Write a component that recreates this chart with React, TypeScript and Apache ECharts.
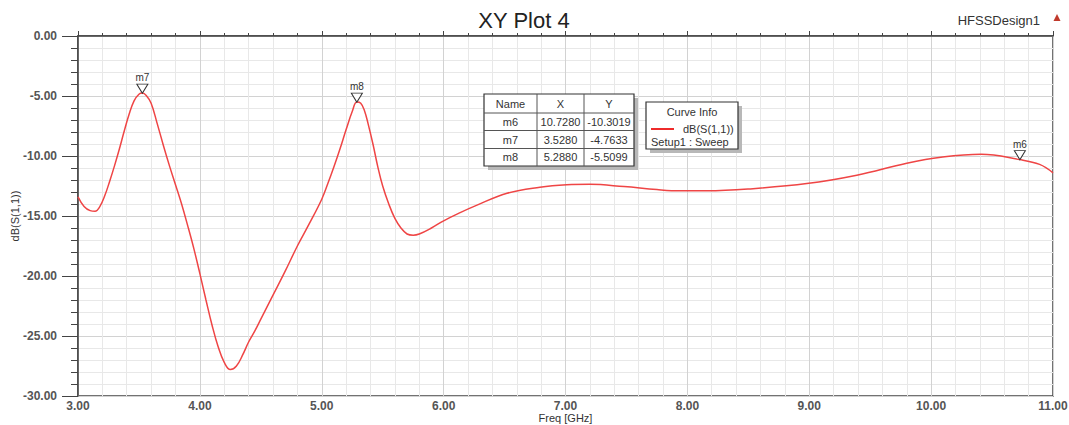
import React, { useEffect, useRef } from "react";
import * as echarts from "echarts";

const freqGHz = [
  3.0, 3.05, 3.1, 3.14, 3.18, 3.22, 3.26, 3.3, 3.34, 3.38, 3.42, 3.46, 3.5, 3.528, 3.56,
  3.6, 3.65, 3.7, 3.75, 3.8, 3.85, 3.9, 3.95, 4.0, 4.05, 4.1, 4.15, 4.2, 4.25, 4.3,
  4.35, 4.4, 4.45, 4.5, 4.6, 4.7, 4.8, 4.9, 5.0, 5.05, 5.1, 5.15, 5.2, 5.25, 5.288,
  5.32, 5.35, 5.38, 5.42, 5.46, 5.5, 5.55, 5.6, 5.65, 5.7, 5.75, 5.8, 5.9, 6.0, 6.14,
  6.25, 6.52, 6.79, 7.01, 7.2, 7.48, 7.75, 7.94, 8.16, 8.5, 8.98, 9.39, 9.8, 10.08, 10.41,
  10.728, 10.89, 11.0,
];
const dbS11 = [
  -13.4, -14.2, -14.55, -14.6, -14.2, -13.3, -12.1, -10.8, -9.4, -7.9, -6.5, -5.4, -4.85, -4.76, -4.95,
  -5.6, -7.3, -9.1, -10.8, -12.4, -14.0, -15.8, -17.7, -19.8, -22.0, -24.1, -25.9, -27.2, -27.8, -27.5,
  -26.6, -25.5, -24.6, -23.6, -21.6, -19.6, -17.5, -15.6, -13.6, -12.3, -10.9, -9.4, -7.8, -6.3, -5.51,
  -5.6, -6.2, -7.3, -9.0, -10.9, -12.5, -14.0, -15.2, -16.0, -16.5, -16.6, -16.5, -16.0, -15.4, -14.7,
  -14.2, -13.1, -12.6, -12.4, -12.36, -12.55, -12.8, -12.9, -12.9, -12.75, -12.3, -11.6, -10.6, -10.1, -9.85,
  -10.3, -10.7, -11.4,
];

const markerNames = ["m6", "m7", "m8"];
const markerFreq = [10.728, 3.528, 5.288];
const markerDb = [-10.3019, -4.7633, -5.5099];

const tableHeader = ["Name", "X", "Y"];
const legendName = "dB(S(1,1))";
const legendSetup = "Setup1 : Sweep";

const FONT = "Liberation Sans, Arial, sans-serif";

function el(o: any, z2: number) {
  return { ...o, z: 100, z2 };
}

function buildTable() {
  const left = 484;
  const top = 94;
  const colW = [53, 47, 50];
  const rowH = [19, 17.5, 18, 17.5];
  const totalW = colW.reduce((a, b) => a + b, 0);
  const totalH = rowH.reduce((a, b) => a + b, 0);
  const rows: string[][] = [tableHeader];
  markerNames.forEach((n, i) => {
    rows.push([n, markerFreq[i].toFixed(4), markerDb[i].toFixed(4)]);
  });
  const out: any[] = [];
  out.push(el({
    type: "rect",
    shape: { x: left + 4, y: top + 4, width: totalW, height: totalH },
    style: { fill: "#b8b8b8" },
  }, 0));
  out.push(el({
    type: "rect",
    shape: { x: left, y: top, width: totalW, height: totalH },
    style: { fill: "#ffffff", stroke: "#333", lineWidth: 1.2 },
  }, 1));
  let y = top;
  rows.forEach((r, ri) => {
    let x = left;
    r.forEach((cell, ci) => {
      out.push(el({
        type: "text",
        style: {
          text: cell,
          x: x + colW[ci] / 2,
          y: y + rowH[ri] / 2,
          align: "center",
          verticalAlign: "middle",
          fontSize: 11,
          fontFamily: FONT,
          fill: "#333",
        },
      }, 3));
      x += colW[ci];
    });
    y += rowH[ri];
    if (ri < rows.length - 1) {
      out.push(el({
        type: "line",
        shape: { x1: left, y1: y, x2: left + totalW, y2: y },
        style: { stroke: "#555", lineWidth: 1 },
      }, 2));
    }
  });
  let cx = left;
  for (let c = 0; c < colW.length - 1; c++) {
    cx += colW[c];
    out.push(el({
      type: "line",
      shape: { x1: cx, y1: top, x2: cx, y2: top + totalH },
      style: { stroke: "#555", lineWidth: 1 },
    }, 2));
  }
  // Curve info box
  const bl = 646;
  const bt = 102;
  const bw = 92;
  const bh = 47;
  out.push(el({
    type: "rect",
    shape: { x: bl + 4, y: bt + 4, width: bw, height: bh },
    style: { fill: "#b8b8b8" },
  }, 0));
  out.push(el({
    type: "rect",
    shape: { x: bl, y: bt, width: bw, height: bh },
    style: { fill: "#ffffff", stroke: "#333", lineWidth: 1.2 },
  }, 1));
  out.push(el({
    type: "text",
    style: {
      text: "Curve Info",
      x: bl + bw / 2,
      y: bt + 10,
      align: "center",
      verticalAlign: "middle",
      fontSize: 11,
      fontFamily: FONT,
      fill: "#333",
    },
  }, 3));
  out.push(el({
    type: "line",
    shape: { x1: bl + 5, y1: bt + 27, x2: bl + 28, y2: bt + 27 },
    style: { stroke: "#ee2b2b", lineWidth: 2 },
  }, 3));
  out.push(el({
    type: "text",
    style: {
      text: legendName,
      x: bl + 37,
      y: bt + 27,
      align: "left",
      verticalAlign: "middle",
      fontSize: 11,
      fontFamily: FONT,
      fill: "#333",
    },
  }, 3));
  out.push(el({
    type: "text",
    style: {
      text: legendSetup,
      x: bl + 5,
      y: bt + 40,
      align: "left",
      verticalAlign: "middle",
      fontSize: 11,
      fontFamily: FONT,
      fill: "#333",
    },
  }, 3));
  return out;
}

export default function App() {
  const ref = useRef<HTMLDivElement>(null);
  useEffect(() => {
    if (!ref.current) return;
    const chart = echarts.init(ref.current, null, { renderer: "svg" });
    const curve = freqGHz.map((f, i) => [f, dbS11[i]]);
    const markers = markerFreq.map((f, i) => ({ name: markerNames[i], value: [f, markerDb[i]] }));
    chart.setOption({
      animation: false,
      backgroundColor: "#ffffff",
      textStyle: { fontFamily: FONT },
      grid: {
        left: 78,
        right: 16,
        top: 36,
        bottom: 29,
        containLabel: false,
        outerBoundsMode: "none",
        show: true,
        borderColor: "#444",
        borderWidth: 1.5,
        backgroundColor: "transparent",
      },
      xAxis: {
        type: "value",
        min: 3,
        max: 11,
        interval: 1,
        name: "Freq [GHz]",
        nameLocation: "middle",
        nameGap: 16,
        nameMoveOverlap: false,
        nameTextStyle: { fontSize: 11, lineHeight: 11, color: "#333", fontFamily: FONT },
        axisLine: { show: true, lineStyle: { color: "#444", width: 1.5 } },
        axisTick: { show: true, inside: true, length: 5, lineStyle: { color: "#444" } },
        minorTick: { show: true, splitNumber: 5, length: 3, lineStyle: { color: "#444" } },
        axisLabel: {
          formatter: (v: number) => v.toFixed(2),
          fontSize: 12,
          lineHeight: 12,
          fontWeight: "bold",
          color: "#555",
          margin: 4,
          fontFamily: FONT,
        },
        splitLine: { show: true, lineStyle: { color: "#d2d2d2", width: 1 } },
        minorSplitLine: { show: true, lineStyle: { color: "#e8e8e8", width: 1 } },
      },
      yAxis: {
        type: "value",
        min: -30,
        max: 0,
        interval: 5,
        name: "dB(S(1,1))",
        nameLocation: "middle",
        nameRotate: 90,
        nameGap: 58,
        nameMoveOverlap: false,
        nameTextStyle: { fontSize: 11, color: "#333", fontFamily: FONT },
        axisLine: { show: true, lineStyle: { color: "#444", width: 1.5 } },
        axisTick: { show: true, inside: false, length: 16, lineStyle: { color: "#444" } },
        minorTick: { show: true, splitNumber: 5, length: 7, lineStyle: { color: "#444" } },
        axisLabel: {
          formatter: (v: number) => v.toFixed(2),
          fontSize: 12,
          fontWeight: "bold",
          color: "#555",
          margin: 21,
          fontFamily: FONT,
        },
        splitLine: { show: true, lineStyle: { color: "#d2d2d2", width: 1 } },
        minorSplitLine: { show: true, lineStyle: { color: "#e8e8e8", width: 1 } },
      },
      series: [
        {
          type: "line",
          data: curve,
          smooth: 0.4,
          showSymbol: false,
          lineStyle: { color: "#ef4545", width: 1.5 },
          z: 5,
        },
        {
          type: "scatter",
          data: markers,
          symbol: "path://M0,0L12,0L6,9Z",
          symbolSize: [11, 9],
          symbolOffset: [0, "-50%"],
          itemStyle: { color: "#ffffff", borderColor: "#333", borderWidth: 1, opacity: 1 },
          label: {
            show: true,
            position: "top",
            distance: 1,
            formatter: (p: any) => p.name,
            fontSize: 10,
            color: "#333",
            fontFamily: FONT,
          },
          z: 10,
        },
      ],
      graphic: [
        {
          type: "text",
          z: 100,
          style: {
            text: "XY Plot 4",
            x: 524,
            y: 20,
            align: "center",
            verticalAlign: "middle",
            fontSize: 22,
            fontFamily: FONT,
            fill: "#222",
          },
        },
        {
          type: "text",
          z: 100,
          style: {
            text: "HFSSDesign1",
            x: 1040,
            y: 20,
            align: "right",
            verticalAlign: "middle",
            fontSize: 13,
            fontFamily: FONT,
            fill: "#333",
          },
        },
        {
          type: "polygon",
          z: 100,
          shape: { points: [[1057, 14], [1053.5, 21], [1060.5, 21]] },
          style: { fill: "#c0392b" },
        },
        ...buildTable(),
      ],
    });
    return () => chart.dispose();
  }, []);
  return (
    <div
      ref={ref}
      style={{ position: "absolute", left: 0, top: 0, width: 1069, height: 425 }}
    />
  );
}
